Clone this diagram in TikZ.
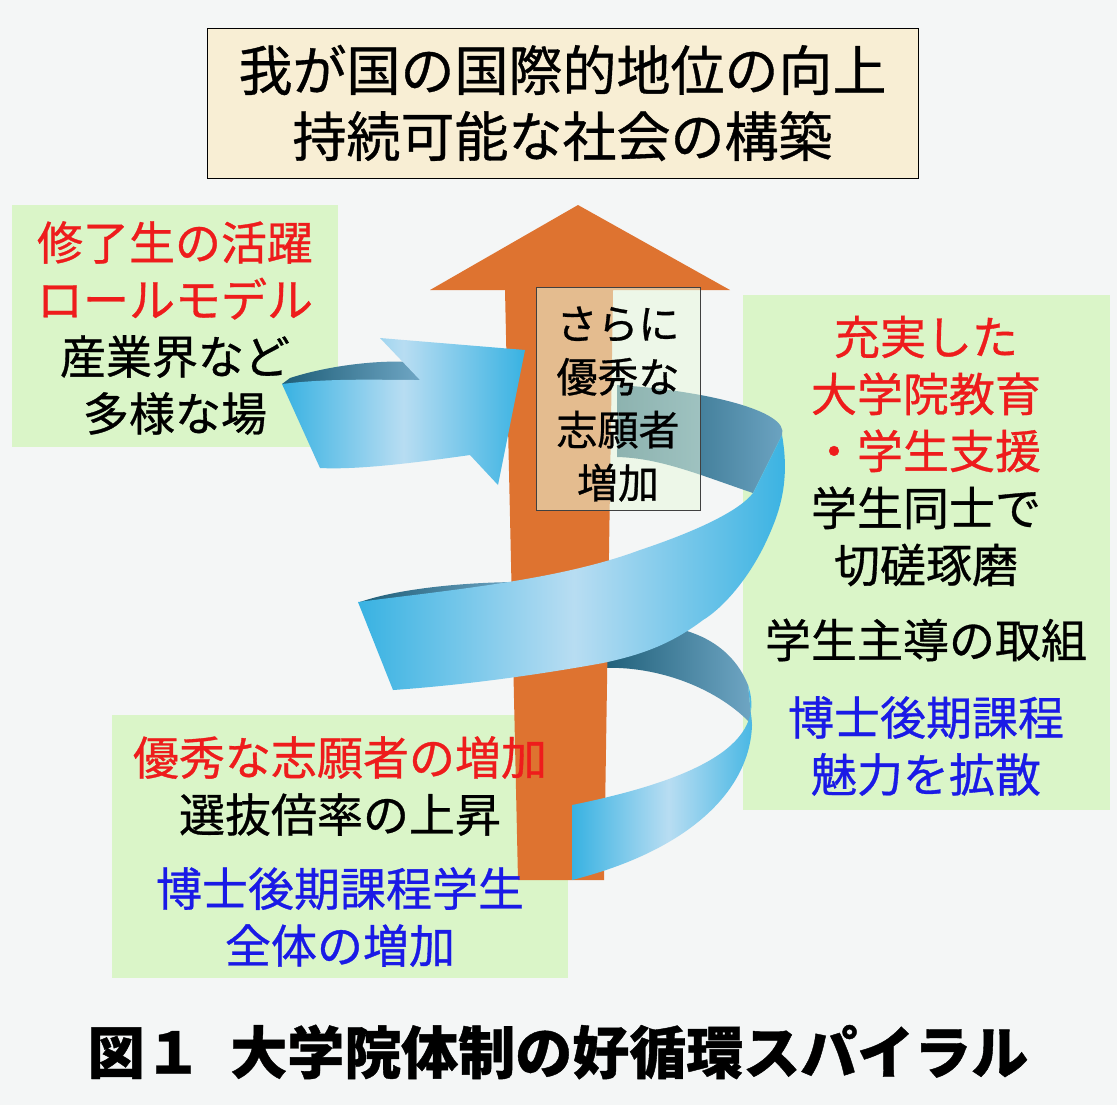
\documentclass[tikz,border=0pt]{standalone}
\usepackage{fontspec}
\setmainfont{Noto Sans CJK JP}[FakeBold=0.7]
\usetikzlibrary{calc}
\definecolor{bg}{HTML}{F4F6F6}
\definecolor{gbox}{HTML}{DAF5C8}
\definecolor{tbox}{HTML}{F8EED4}
\definecolor{org}{HTML}{DE7330}
\definecolor{rb}{HTML}{38B2E2}
\definecolor{rbl}{HTML}{B8DDF2}
\definecolor{rbd}{HTML}{1E5E78}
\definecolor{rbm}{HTML}{6FA6C4}
\definecolor{jred}{HTML}{EE1C1C}
\definecolor{jblue}{HTML}{1A1AE6}
\tikzset{
 gboxs/.style={fill=gbox,draw=none},
 big/.style={font=\fontsize{27}{33}\selectfont},
 mid/.style={font=\fontsize{23}{28.5}\selectfont,align=center,inner sep=0pt},
 sml/.style={font=\fontsize{20.5}{26.5}\selectfont,align=center,inner sep=0pt},
 front/.style={left color=rb,right color=rb,middle color=rbl,draw=none},
 back/.style={left color=rbd,right color=rbm,draw=none},
}
\begin{document}
\begin{tikzpicture}[x=0.5pt,y=-0.5pt]
\fill[bg] (0,0) rectangle (1117,1105);
\useasboundingbox (0,0) rectangle (1117,1105);
% boxes
\fill[gboxs] (12,205) rectangle (338,447);
\fill[gboxs] (743,295) rectangle (1110,810);
\fill[gboxs] (112,715) rectangle (568,978);
\node[draw=black,fill=tbox,minimum width=355.5pt,minimum height=75pt,inner sep=0pt] (top) at (562.5,103) {};
% back ribbon pieces
\path[back] (617,385) .. controls (700,390) and (790,410) .. (782,435) -- (753,493) .. controls (700,475) and (660,458) .. (617,457) -- cycle;
\path[back] (600,628) .. controls (680,615) and (730,640) .. (748,685) -- (752,725) .. controls (720,690) and (660,665) .. (600,668) -- cycle;
\path[back] (290,378) .. controls (330,365) and (380,360) .. (410,362) -- (420,380) -- (282,384) -- cycle;
\path[back] (360,602) .. controls (400,588) and (470,582) .. (520,582) -- (520,600) -- (362,606) -- cycle;
% orange arrow
\fill[org] (518,880) -- (505,290) -- (430,290) -- (578,205) -- (730,290) -- (613,290) -- (604,880) -- cycle;
\node[coordinate] (tip) at (578,205) {};
% center box
\node[draw=black!75,fill=gbox!60!white,fill opacity=0.55,text opacity=1,minimum width=82pt,minimum height=111.5pt,inner sep=0pt] (cbox) at (618,398.5) {};
\node[sml] (ctext) at (618,404) {さらに\\優秀な\\志願者\\増加};
% front ribbon pieces
\path[front] (282,384) .. controls (330,378) and (380,380) .. (420,380) -- (380,338) -- (525,350) -- (498,485) -- (470,455) .. controls (420,462) and (360,470) .. (320,468) -- cycle;
\path[front] (782,435) .. controls (790,480) and (780,510) .. (770,533) .. controls (750,580) and (720,610) .. (703,620) .. controls (670,645) and (640,655) .. (603,663) .. controls (520,678) and (450,686) .. (393,690) -- (358,602) .. controls (450,590) and (560,580) .. (640,550) .. controls (700,530) and (740,510) .. (753,493) -- cycle;
\path[front] (748,685) .. controls (765,735) and (720,775) .. (572,805) -- (572,880) .. controls (690,850) and (750,790) .. (752,725) -- cycle;
% texts
\node[big,align=center,inner sep=0pt] (ttext) at (top) {我が国の国際的地位の向上\\持続可能な社会の構築};
\node[mid] (lt) at (175,328) {\textcolor{jred}{修了生の活躍}\\\textcolor{jred}{ロールモデル}\\産業界など\\多様な場};
\node[mid] (r1) at (926,451) {\textcolor{jred}{充実した}\\\textcolor{jred}{大学院教育}\\\textcolor{jred}{・学生支援}\\学生同士で\\切磋琢磨};
\node[mid] (r2) at (926,640) {学生主導の取組};
\node[mid,text=jblue] (r3) at (926,746) {博士後期課程\\魅力を拡散};
\node[mid] (b1) at (340,786) {\textcolor{jred}{優秀な志願者の増加}\\選抜倍率の上昇};
\node[mid,text=jblue] (b2) at (340,917) {博士後期課程学生\\全体の増加};
\node[font=\fontsize{28.5}{33}\selectfont\bfseries,inner sep=0pt] (cap) at (558,1052) {図１\enspace 大学院体制の好循環スパイラル};
\end{tikzpicture}
\end{document}
